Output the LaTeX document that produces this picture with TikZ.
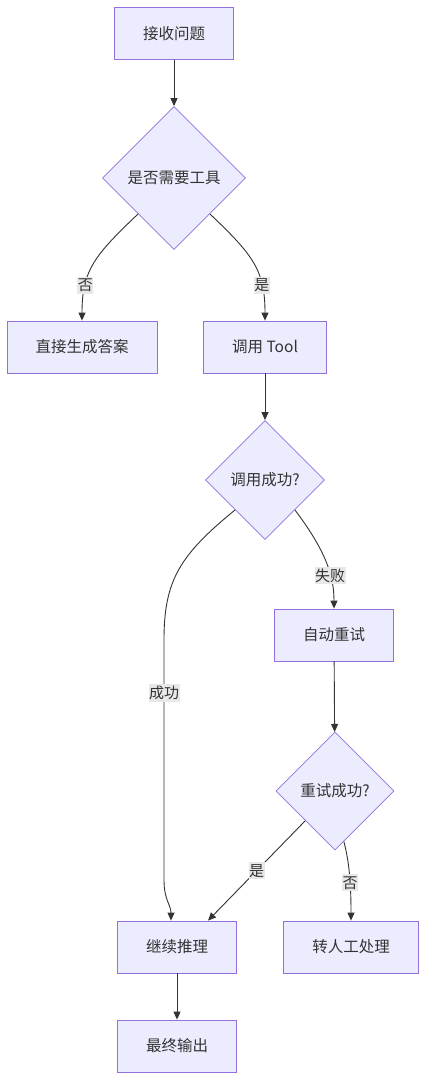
\documentclass[tikz,border=0pt]{standalone}
\usepackage{fontspec}
\setmainfont{Noto Sans CJK SC}
\usetikzlibrary{shapes.geometric,arrows.meta}
\definecolor{boxfill}{HTML}{ECECFF}
\definecolor{boxline}{HTML}{9370DB}
\definecolor{edgeline}{HTML}{333333}
\definecolor{lblfill}{HTML}{E8E8E8}
\tikzset{
  stepbox/.style={draw=boxline,fill=boxfill,line width=0.8pt,text=edgeline,
    inner xsep=28.5pt,minimum height=52pt,font=\fontsize{15.5}{18}\selectfont},
  choice/.style={diamond,aspect=1,draw=boxline,fill=boxfill,line width=0.8pt,
    text=edgeline,inner sep=0pt,font=\fontsize{15.5}{18}\selectfont},
  flow/.style={->,draw=edgeline,line width=0.9pt},
  lbl/.style={fill=lblfill,text=edgeline,inner xsep=0.5pt,inner ysep=2pt,
    font=\fontsize{15}{17}\selectfont}
}

\begin{document}
\begin{tikzpicture}[x=1pt,y=-1pt,>={Triangle[length=8pt,width=7pt]}]
          \useasboundingbox (0,0) rectangle (426,1080);
          % nodes
          \node[stepbox] (ask) at (174,33.5) {接收问题};
          \node[choice,minimum size=143pt] (needtool) at (174,178) {是否需要工具};
          \node[stepbox] (direct) at (82,347) {直接生成答案};
          \node[stepbox] (calltool) at (265,347) {调用 Tool};
          \node[choice,minimum size=119pt] (callok) at (265,480) {调用成功?};
          \node[stepbox] (retry) at (334,635) {自动重试};
          \node[choice,minimum size=118pt] (retryok) at (335,791) {重试成功?};
          \node[stepbox] (reason) at (177,947) {继续推理};
          \node[stepbox] (manual) at (351,947) {转人工处理};
          \node[stepbox] (output) at (177,1046) {最终输出};
          % edges
          \draw[flow] (ask) -- (needtool);
          \draw[flow] (needtool.south west) .. controls (95,255) and (82,270) ..
            node[lbl,pos=0.72] {否} (direct.north);
          \draw[flow] (needtool.south east) .. controls (253,255) and (265,270) ..
            node[lbl,pos=0.72] {是} (calltool.north);
          \draw[flow] (calltool) -- (callok);
          \draw[flow] (callok.south east) .. controls (325,550) and (334,575) ..
            node[lbl,pos=0.65] {失败} (retry.north);
          \draw[flow] (callok.south west) .. controls (180,555) and (164,580) .. (164,640)
            -- node[lbl,pos=0.22] {成功} (164,880)
            .. controls (164,900) and (171,905) .. ([xshift=-6pt]reason.north);
          \draw[flow] (retry) -- (retryok);
          \draw[flow] (retryok.south west) --
            node[lbl] {是} ([xshift=31pt]reason.north);
          \draw[flow] (retryok.-80) .. controls (348,858) and (351,875) ..
            node[lbl,pos=0.66] {否} (manual.north);
          \draw[flow] (reason) -- (output);
        \end{tikzpicture}
\end{document}
